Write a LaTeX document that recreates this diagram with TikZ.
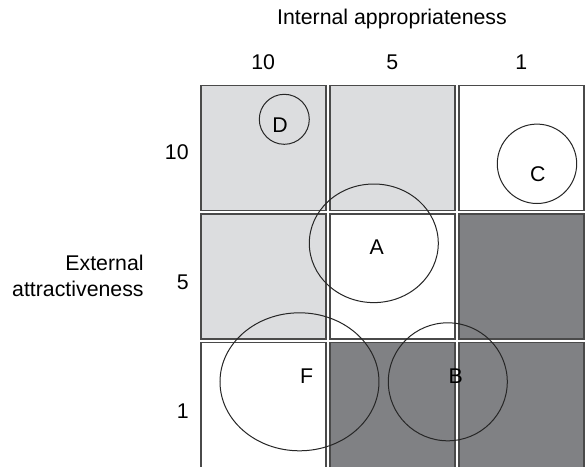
\documentclass[tikz,border=0pt]{standalone}
\usepackage{fontspec}
\setmainfont{Liberation Sans}
\usetikzlibrary{shapes.geometric}
\definecolor{lightcell}{HTML}{DCDDDF}
\definecolor{darkcell}{HTML}{808184}
\definecolor{cellline}{HTML}{4A4A4A}

\begin{document}
\begin{tikzpicture}[x=0.5pt,y=-0.5pt,font=\fontsize{10.65}{13.35}\selectfont,
  cell/.style={draw=cellline,line width=0.8pt,minimum width=62.5pt,minimum height=62.5pt,inner sep=0pt},
  oval/.style={draw=black!85,line width=0.5pt,ellipse,inner sep=0pt},
  lab/.style={inner sep=0pt}]
\clip (0,0) rectangle (586,467);
\foreach \r/\c/\f in {1/1/lightcell,1/2/lightcell,1/3/white,2/1/lightcell,2/2/white,2/3/darkcell,3/1/white,3/2/darkcell,3/3/darkcell}{
  \node[cell,fill=\f] (cell-\r-\c) at ({263.25+(\c-1)*129},{148+(\r-1)*128.5}) {};
}
\foreach \c/\v in {1/10,2/5,3/1}{
  \node[lab] (col-\c) at ({263.25+(\c-1)*129},62) {\v};
}
\foreach \r/\v in {1/10,2/5,3/1}{
  \node[lab,anchor=east] (row-\r) at (189,{152.5+(\r-1)*129.5}) {\v};
}
\node[lab] (xtitle) at (392,19) {Internal appropriateness};
\node[lab,anchor=east,align=right] (ytitle) at (144,276) {External\\attractiveness};
% projects
\node[oval,minimum width=25pt,minimum height=25pt] (ovD) at (284.3,119.3) {};
\node[oval,minimum width=39.7pt,minimum height=39.7pt] (ovC) at (537,163.8) {};
\node[oval,minimum width=64.5pt,minimum height=59.3pt] (ovA) at (373.8,243.3) {};
\node[oval,minimum width=79.5pt,minimum height=69pt] (ovF) at (299.5,381.8) {};
\node[oval,minimum width=59.5pt,minimum height=59pt] (ovB) at (447.8,381.8) {};
\node[lab] (labD) at (280,125) {D};
\node[lab] (labC) at (537.7,174.3) {C};
\node[lab] (labA) at (376.7,246.7) {A};
\node[lab] (labF) at (306.7,375.7) {F};
\node[lab] (labB) at (455.7,375.7) {B};
\end{tikzpicture}
\end{document}
